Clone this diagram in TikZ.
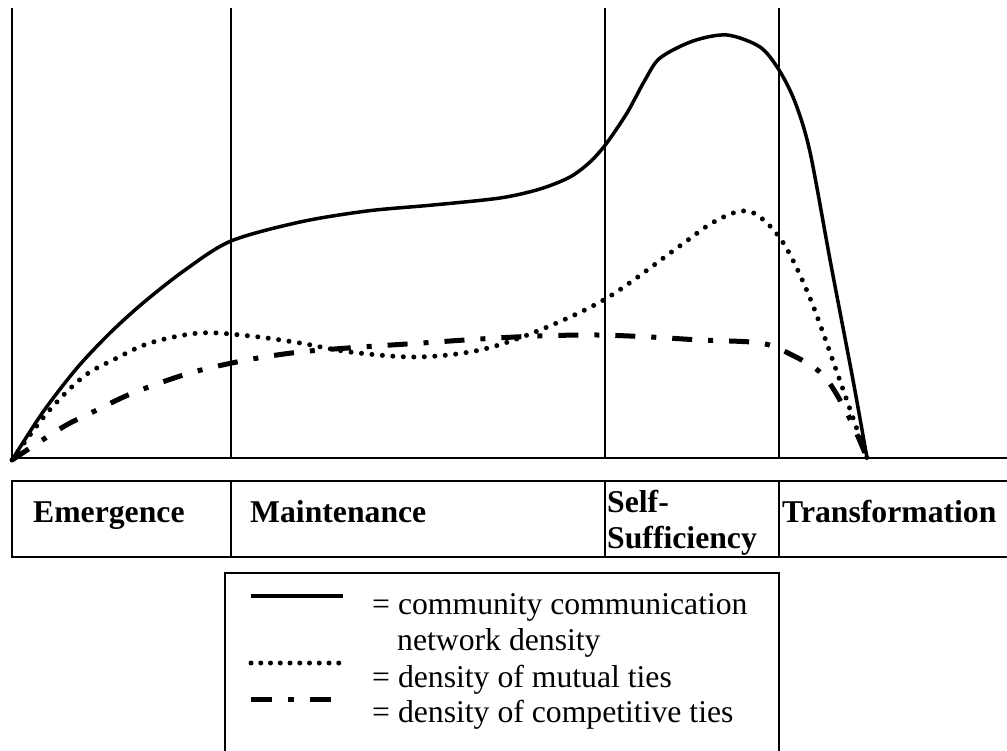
\documentclass[tikz,border=0pt]{standalone}
\usepackage{fontspec}
\setmainfont{Liberation Serif}
\tikzset{
  vline/.style={line width=1.5pt},
  tline/.style={line width=1.6pt},
  axisline/.style={line width=2.5pt},
  solidcurve/.style={line width=3.5pt},
  dotcurve/.style={line width=5pt, line cap=round, dash pattern=on 0pt off 10.5pt},
  dashdotcurve/.style={line width=5pt, dash pattern=on 20pt off 16pt on 5pt off 16pt},
  phase/.style={font=\fontsize{31.7}{36}\selectfont\bfseries, inner sep=0pt, anchor=base west, align=left},
  legtext/.style={font=\fontsize{31.7}{36}\selectfont, inner sep=0pt, anchor=base west},
}
\begin{document}
\begin{tikzpicture}[x=1pt,y=-1pt]
\useasboundingbox (0,0) rectangle (1007,751);
% vertical phase lines
\coordinate (v0t) at (12,8);   \coordinate (v0b) at (12,458);
\coordinate (v1t) at (231,8);  \coordinate (v1b) at (231,458);
\coordinate (v2t) at (605,8);  \coordinate (v2b) at (605,458);
\coordinate (v3t) at (779,8);  \coordinate (v3b) at (779,458);
\draw[vline] (v0t) -- (v0b);
\draw[vline] (v1t) -- (v1b);
\draw[vline] (v2t) -- (v2b);
\draw[vline] (v3t) -- (v3b);
% axis
\coordinate (axR) at (1007,458);
\draw[axisline] (v0b) -- (axR);
% curves
\draw[solidcurve] plot[smooth, tension=0.5] coordinates {(12,460) (43,412) (77,368) (110,333) (143,303) (185,270) (231,241) (300,222) (367,211) (433,205) (500,198) (540,189) (570,177) (590,162) (606,144) (627,113) (645,80) (660,58) (693,41) (727,35) (760,47) (779,70) (795,102) (810,152) (831,265) (853,380) (867,458)};
\draw[dotcurve] plot[smooth, tension=0.55] coordinates {(12,460) (47,413) (83,377) (113,360) (150,343) (200,333) (250,336) (300,343) (350,352) (417,357) (480,350) (540,330) (607,298) (677,248) (712,223) (741,211) (760,217) (784,244) (810,298) (839,378) (867,458)};
\draw[dashdotcurve] plot[smooth, tension=0.55] coordinates {(12,460) (63,427) (97,410) (133,393) (190,373) (247,360) (300,352) (362,347) (422,343) (480,339) (538,336) (597,335) (650,337) (700,340) (760,343) (790,354) (823,375) (848,415) (867,458)};
% phase table
\coordinate (tTL) at (12,481); \coordinate (tTR) at (1007,481);
\coordinate (tBL) at (12,557); \coordinate (tBR) at (1007,557);
\draw[tline] (tTR) -- (tTL) -- (tBL) -- (tBR);
\draw[tline] (231,481) -- (231,557);
\draw[tline] (605,481) -- (605,557);
\draw[tline] (779,481) -- (779,557);
\node[phase] (emerg) at (33,522) {Emergence};
\node[phase] (maint) at (250,522) {Maintenance};
\node[phase] (self1) at (607,512) {Self-};
\node[phase] (self2) at (607,548) {Sufficiency};
\node[phase] (trans) at (782,522) {Transformation};
% legend box
\draw[tline] (225,760) -- (225,573) -- (779,573) -- (779,760);
\coordinate (l1a) at (251,596); \coordinate (l1b) at (343,596);
\draw[line width=3.5pt] (l1a) -- (l1b);
\coordinate (l2a) at (251,663); \coordinate (l2b) at (339,663);
\draw[line width=5pt, line cap=round, dash pattern=on 0pt off 9.75pt] (l2a) -- (l2b);
\coordinate (l3a) at (251,699); \coordinate (l3b) at (332,699);
\draw[line width=5pt, dash pattern=on 21pt off 16pt on 6pt off 16pt] (l3a) -- (l3b);
\node[legtext] (t1) at (372,614) {= community communication};
\node[legtext] (t2) at (397,650) {network density};
\node[legtext] (t3) at (372,687) {= density of mutual ties};
\node[legtext] (t4) at (372,722) {= density of competitive ties};
\end{tikzpicture}
\end{document}
